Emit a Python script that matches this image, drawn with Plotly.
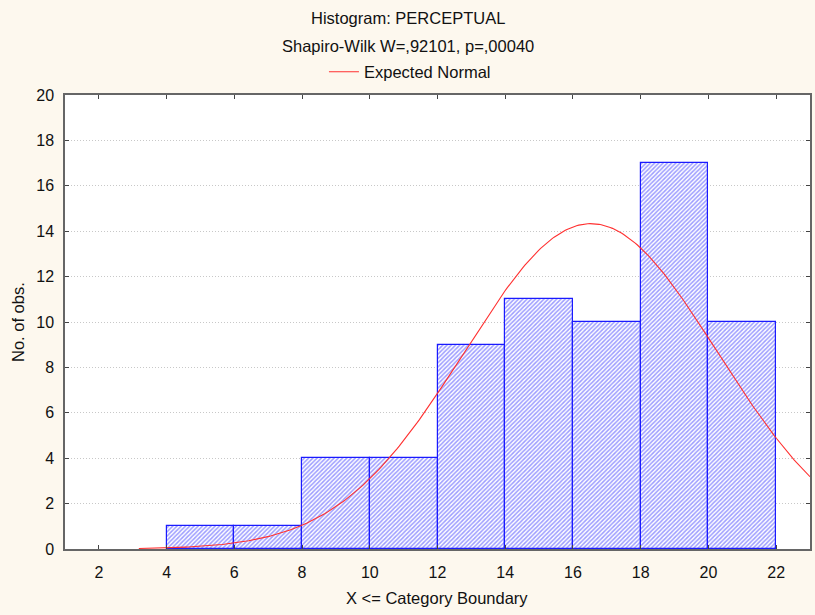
import numpy as np
import plotly.graph_objects as go

# Histogram bins (upper boundaries) and observed counts
bin_upper = [6, 8, 10, 12, 14, 16, 18, 20, 22]
counts = [1, 1, 4, 4, 9, 11, 10, 17, 10]
bin_width = 2

# Fitted normal parameters for the expected curve
fit_mean = 16.53
fit_sd = 3.73
curve_start, curve_end = 3.18, 23.0

x_ticks = list(range(2, 23, 2))
y_ticks = list(range(0, 21, 2))

n_obs = sum(counts)
centers = [u - bin_width / 2 for u in bin_upper]
xc = np.linspace(curve_start, curve_end, 300)
yc = n_obs * bin_width / (fit_sd * np.sqrt(2 * np.pi)) * np.exp(-((xc - fit_mean) ** 2) / (2 * fit_sd ** 2))

font = "Liberation Sans, Arial, sans-serif"
fig = go.Figure()
fig.add_trace(go.Bar(
    x=centers, y=counts, width=bin_width, showlegend=False,
    marker=dict(color="white", line=dict(color="#1a1aff", width=1.2),
                pattern=dict(shape="/", fgcolor="#3a3aff", bgcolor="white", size=3, solidity=0.5)),
    hoverinfo="skip",
))
fig.add_trace(go.Scatter(
    x=xc, y=yc, mode="lines", name="Expected Normal",
    line=dict(color="#ff3030", width=1.1),
))

plot_left, plot_right = 65, 810
plot_top, plot_bottom = 95, 549
def ypaper(py):
    return (plot_bottom - py) / (plot_bottom - plot_top)
def xpaper(px):
    return (px - plot_left) / (plot_right - plot_left)

fig.update_layout(
    width=815, height=615,
    margin=dict(l=plot_left, r=815 - plot_right, t=plot_top, b=615 - plot_bottom, autoexpand=False),
    paper_bgcolor="#fdf8ee", plot_bgcolor="white",
    font=dict(family=font, size=16, color="#111111"),
    bargap=0,
    legend=dict(orientation="h", xref="container", yref="container", x=0.503, y=1 - 72 / 615,
                xanchor="center", yanchor="middle", bgcolor="rgba(0,0,0,0)",
                font=dict(size=16.5), itemwidth=30),
    annotations=[
        dict(text="Histogram: PERCEPTUAL", xref="paper", yref="paper", x=xpaper(408), y=ypaper(18),
             showarrow=False, xanchor="center", yanchor="middle", font=dict(size=16.5)),
        dict(text="Shapiro-Wilk W=,92101, p=,00040", xref="paper", yref="paper", x=xpaper(408), y=ypaper(46),
             showarrow=False, xanchor="center", yanchor="middle", font=dict(size=16.5)),
        dict(text="X <= Category Boundary", xref="paper", yref="paper", x=xpaper(437), y=ypaper(598),
             showarrow=False, xanchor="center", yanchor="middle", font=dict(size=16.5)),
        dict(text="No. of obs.", xref="paper", yref="paper", x=xpaper(18), y=ypaper(322),
             showarrow=False, xanchor="center", yanchor="middle", textangle=-90, font=dict(size=16.5)),
    ],
)
fig.update_xaxes(
    range=[1, 23], tickvals=x_ticks, showgrid=False, zeroline=False,
    showline=True, linecolor="#666666", linewidth=1.5, mirror="ticks",
    ticks="inside", ticklen=4, tickcolor="#444444", ticklabelstandoff=8,
)
fig.update_yaxes(
    range=[0, 20], tickvals=y_ticks, showgrid=True, gridcolor="#c8c8c8", griddash="1px,2px",
    zeroline=False, showline=True, linecolor="#666666", linewidth=1.5, mirror="ticks",
    ticks="inside", ticklen=4, tickcolor="#444444", ticklabelstandoff=6,
)

fig.write_html("out.html")
